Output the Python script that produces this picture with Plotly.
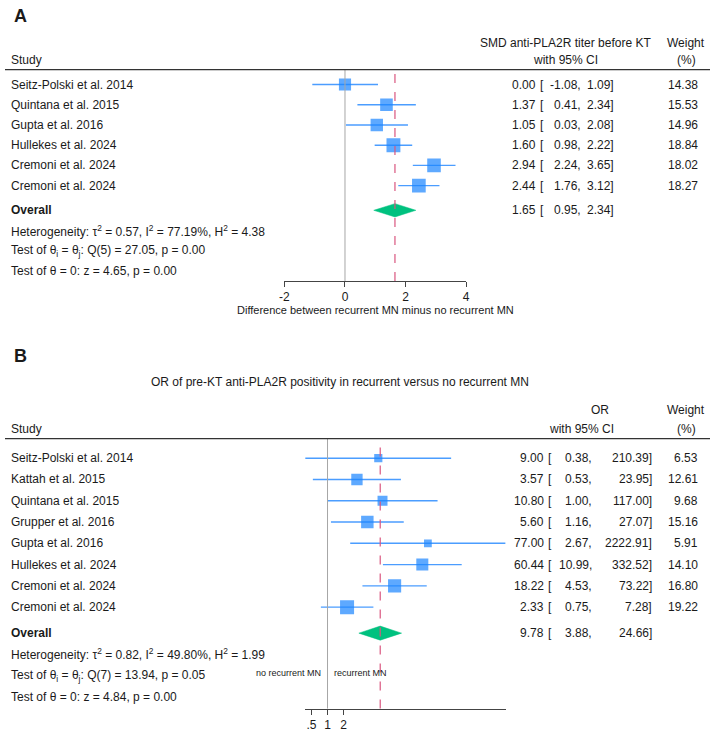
import numpy as np
import plotly.graph_objects as go

W, H = 714, 732

# ---------------- Panel A data ----------------
studies_a = ["Seitz-Polski et al. 2014", "Quintana et al. 2015", "Gupta et al. 2016",
             "Hullekes et al. 2024", "Cremoni et al. 2024", "Cremoni et al. 2024"]
smd_a = [0.00, 1.37, 1.05, 1.60, 2.94, 2.44]
lo_a = [-1.08, 0.41, 0.03, 0.98, 2.24, 1.76]
hi_a = [1.09, 2.34, 2.08, 2.22, 3.65, 3.12]
weight_a = [14.38, 15.53, 14.96, 18.84, 18.02, 18.27]
overall_a = [1.65, 0.95, 2.34]
stats_a = ["Heterogeneity: τ<sup>2</sup> = 0.57, I<sup>2</sup> = 77.19%, H<sup>2</sup> = 4.38",
           "Test of θ<sub>i</sub> = θ<sub>j</sub>: Q(5) = 27.05, p = 0.00",
           "Test of θ = 0: z = 4.65, p = 0.00"]
ticks_a = [-2, 0, 2, 4]
ticktext_a = ["-2", "0", "2", "4"]
xtitle_a = "Difference between recurrent MN minus no recurrent MN"
header_a = ["SMD anti-PLA2R titer before KT", "with 95% CI"]

# ---------------- Panel B data ----------------
studies_b = ["Seitz-Polski et al. 2014", "Kattah et al. 2015", "Quintana et al. 2015",
             "Grupper et al. 2016", "Gupta et al. 2016", "Hullekes et al. 2024",
             "Cremoni et al. 2024", "Cremoni et al. 2024"]
or_b = [9.00, 3.57, 10.80, 5.60, 77.00, 60.44, 18.22, 2.33]
lo_b = [0.38, 0.53, 1.00, 1.16, 2.67, 10.99, 4.53, 0.75]
hi_b = [210.39, 23.95, 117.00, 27.07, 2222.91, 332.52, 73.22, 7.28]
weight_b = [6.53, 12.61, 9.68, 15.16, 5.91, 14.10, 16.80, 19.22]
overall_b = [9.78, 3.88, 24.66]
stats_b = ["Heterogeneity: τ<sup>2</sup> = 0.82, I<sup>2</sup> = 49.80%, H<sup>2</sup> = 1.99",
           "Test of θ<sub>i</sub> = θ<sub>j</sub>: Q(7) = 13.94, p = 0.05",
           "Test of θ = 0: z = 4.84, p = 0.00"]
ticks_b = [0.5, 1, 2]
ticktext_b = [".5", "1", "2"]
title_b = "OR of pre-KT anti-PLA2R positivity in recurrent versus no recurrent MN"
header_b = ["OR", "with 95% CI"]

# ---------------- styles ----------------
FONT = "Liberation Sans, Arial, Helvetica, sans-serif"
TXT = "#1a1a1a"
SQ = "#1a85ff"
CI = "#4b9dff"
DIA = "#00c17f"
DASH = "#d9557f"
GREY = "#a6a6a6"
AX = "#444444"
FS = 12


def px(x):
    return x / W


def py(y):
    return 1 - y / H


fig = go.Figure()
ann = []
shapes = []


def panel(suffix, studies, est, lo, hi, wts, overall, stats, row0, step, top, bottom,
          xdom, cols, null_val):
    n = len(studies)
    rows = list(range(n))
    orow = n + 0.22
    yname = "y" + suffix
    xname = "x" + suffix
    yr = [(bottom - row0) / step, (top - row0) / step]
    # CI lines
    xs, ys = [], []
    for r, l, h in zip(rows, lo, hi):
        xs += [l, h, None]
        ys += [r, r, None]
    fig.add_trace(go.Scatter(x=xs, y=ys, mode="lines", line=dict(color=CI, width=1.4),
                             xaxis=xname, yaxis=yname, hoverinfo="skip", showlegend=False))
    # squares (area proportional to weight)
    fig.add_trace(go.Scatter(x=est, y=rows, mode="markers",
                             marker=dict(symbol="square", color=SQ,
                                         size=[3.2 * np.sqrt(w) for w in wts],
                                         line=dict(width=0)),
                             xaxis=xname, yaxis=yname, showlegend=False))
    # overall diamond
    e, l, h = overall
    hd = 0.33
    fig.add_trace(go.Scatter(x=[l, e, h, e, l], y=[orow, orow - hd, orow, orow + hd, orow],
                             mode="lines", fill="toself", fillcolor=DIA,
                             line=dict(color=DIA, width=0.5),
                             xaxis=xname, yaxis=yname, showlegend=False))
    # reference lines
    shapes.append(dict(type="line", xref=xname, yref="paper", x0=null_val, x1=null_val,
                       y0=py(bottom), y1=py(top), line=dict(color=GREY, width=1)))
    shapes.append(dict(type="line", xref=xname, yref="paper", x0=e, x1=e,
                       y0=py(bottom), y1=py(top + 2),
                       line=dict(color=DASH, width=1.2, dash="dash")))
    # separator line
    shapes.append(dict(type="line", xref="paper", yref="paper", x0=0, x1=1,
                       y0=py(top), y1=py(top), line=dict(color="#333333", width=1.3)))

    est_r, br_l, lo_r, hi_r, w_r = cols

    def t(x, y, text, anchor="left", bold=False, size=FS):
        ann.append(dict(x=px(x), y=y, xref="paper", yref=yname,
                        text=("<b>%s</b>" % text) if bold else text,
                        showarrow=False, xanchor=anchor, yanchor="middle", borderpad=0,
                        font=dict(family=FONT, size=size, color=TXT)))

    for r, s, v, a, b, w in zip(rows, studies, est, lo, hi, wts):
        t(5, r, s)
        t(est_r, r, f"{v:.2f}", "right")
        t(br_l, r, "[", "left")
        t(lo_r, r, f"{a:.2f},", "right")
        t(hi_r, r, f"{b:.2f}]", "right")
        t(w_r, r, f"{w:.2f}", "right")
    t(5, orow, "Overall", bold=True)
    t(est_r, orow, f"{e:.2f}", "right")
    t(br_l, orow, "[", "left")
    t(lo_r, orow, f"{l:.2f},", "right")
    t(hi_r, orow, f"{h:.2f}]", "right")
    for k, s in enumerate(stats):
        t(5, orow + 1 + k, s)

    axis_x = dict(domain=[px(xdom[0]), px(xdom[1])], anchor=yname, showline=True,
                  linecolor=AX, linewidth=1.2, ticks="outside", ticklen=5, tickcolor=AX,
                  tickwidth=1, showgrid=False, zeroline=False,
                  tickfont=dict(family=FONT, size=FS, color=TXT))
    axis_y = dict(domain=[py(bottom), py(top)], range=yr, visible=False,
                  showgrid=False, zeroline=False, anchor=xname)
    return axis_x, axis_y


# Panel A
ax_a, ay_a = panel("", studies_a, smd_a, lo_a, hi_a, weight_a, overall_a, stats_a,
                   row0=85, step=20.33, top=70, bottom=282.5, xdom=(283, 467),
                   cols=(539, 541, 584, 618, 703), null_val=0)
ax_a.update(range=[min(ticks_a), max(ticks_a)], tickvals=ticks_a, ticktext=ticktext_a)

# Panel B
ax_b, ay_b = panel("2", studies_b, or_b, lo_b, hi_b, weight_b, overall_b, stats_b,
                   row0=460.7, step=21.4, top=441, bottom=712.5, xdom=(304, 507),
                   cols=(547, 549, 596, 656, 703), null_val=1)
ax_b.update(type="log", range=[np.log10(min(lo_b)), np.log10(max(hi_b))],
            tickvals=ticks_b, ticktext=ticktext_b)


def ptxt(x, y, text, anchor="center", size=FS, bold=False):
    ann.append(dict(x=px(x), y=py(y), xref="paper", yref="paper",
                    text=("<b>%s</b>" % text) if bold else text, showarrow=False,
                    xanchor=anchor, yanchor="middle", borderpad=0,
                    font=dict(family=FONT, size=size, color=TXT)))


# Panel A headers
ptxt(8, 16, "A", "left", size=18, bold=True)
ptxt(568, 43, header_a[0])
ptxt(568, 60, header_a[1])
ptxt(690, 43, "Weight")
ptxt(690, 60, "(%)")
ptxt(5, 60, "Study", "left")
ptxt(375, 312, xtitle_a, size=11)

# Panel B headers
ptxt(8, 358, "B", "left", size=18, bold=True)
ptxt(339, 384, title_b)
ptxt(603, 412, header_b[0])
ptxt(584, 431, header_b[1])
ptxt(690, 412, "Weight")
ptxt(690, 431, "(%)")
ptxt(5, 431, "Study", "left")
ptxt(321, 677, "no recurrent MN", "right", size=9)
ptxt(332, 677, "recurrent MN", "left", size=9)

fig.update_layout(
    width=W, height=H, margin=dict(l=0, r=0, t=0, b=0),
    paper_bgcolor="white", plot_bgcolor="white",
    xaxis=ax_a, yaxis=ay_a, xaxis2=ax_b, yaxis2=ay_b,
    annotations=ann, shapes=shapes, showlegend=False,
    font=dict(family=FONT, size=FS, color=TXT),
)

fig.write_html("out.html")
